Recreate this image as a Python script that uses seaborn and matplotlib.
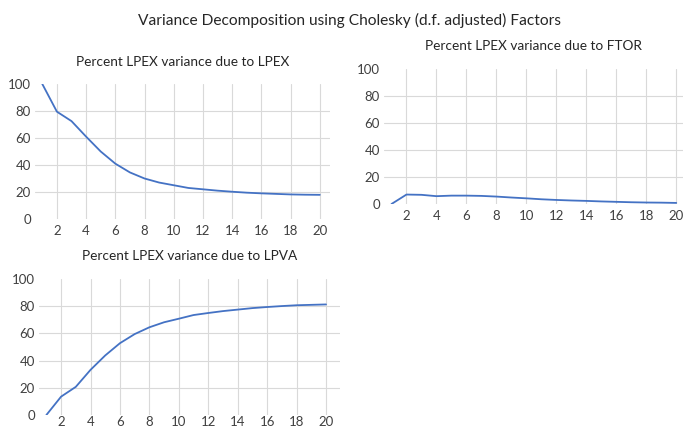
import matplotlib
matplotlib.use("Agg")
import matplotlib.pyplot as plt
import numpy as np
import pandas as pd
import seaborn as sns

# forecast horizon (periods)
periods = list(range(1, 21))

# percent of LPEX forecast error variance explained by each shock
lpex_share = [100, 79.5, 72.5, 61, 50, 41, 34.5, 30, 27, 25,
              23, 22, 21, 20.2, 19.5, 19, 18.6, 18.2, 18, 17.9]
ftor_share = [0, 7, 6.8, 5.8, 6.2, 6.2, 6, 5.5, 4.8, 4.2,
              3.5, 3, 2.6, 2.3, 1.9, 1.6, 1.3, 1.1, 1, 0.8]
lpva_share = [0, 13.5, 20.7, 33.2, 43.8, 52.8, 59.5, 64.5, 68.2, 70.8,
              73.5, 75, 76.4, 77.5, 78.6, 79.4, 80.1, 80.7, 81, 81.3]

xticks = list(range(2, 21, 2))
yticks = [0, 20, 40, 60, 80, 100]

sns.set_theme(style="white")
plt.rcParams["font.family"] = ["Lato", "DejaVu Sans"]

W, H = 683, 430
fig = plt.figure(figsize=(W / 100, H / 100), dpi=100)


def px_axes(left, top, width, height):
    # pixel box (from top-left) -> figure fraction
    return fig.add_axes([left / W, (H - top - height) / H, width / W, height / H])


panels = [
    ("Percent LPEX variance due to LPEX", lpex_share, (35, 84, 295, 135), (0.5, 20.7), 62, 4),
    ("Percent LPEX variance due to FTOR", ftor_share, (384, 69, 299, 135), (0.5, 20.45), 46, 4),
    ("Percent LPEX variance due to LPVA", lpva_share, (39, 279, 301, 136), (0.5, 20.95), 256, 1),
]

for title, vals, box, xlim, title_y, xpad in panels:
    ax = px_axes(*box)
    df = pd.DataFrame({"period": periods, "share": vals})
    sns.lineplot(data=df, x="period", y="share", ax=ax, color="#4472C4", linewidth=1.3)
    ax.set_xlim(*xlim)
    ax.set_ylim(0, 100)
    ax.set_xticks(xticks)
    ax.set_yticks(yticks)
    ax.set_xlabel("")
    ax.set_ylabel("")
    ax.grid(True, color="#D9D9D9", linewidth=0.8)
    ax.set_axisbelow(True)
    # no horizontal rules at 0 and 100, like the original
    ygl = ax.get_ygridlines()
    ygl[0].set_visible(False)
    ygl[-1].set_visible(False)
    for s in ax.spines.values():
        s.set_visible(False)
    ax.tick_params(axis="both", labelsize=9.5, colors="#404040", length=0, pad=3)
    ax.tick_params(axis="x", pad=xpad)
    cx = (box[0] + box[2] / 2) / W
    fig.text(cx, 1 - title_y / H, title, ha="center", va="center", fontsize=9.8, color="#262626")

fig.text(350 / W, 1 - 20 / H, "Variance Decomposition using Cholesky (d.f. adjusted) Factors",
         ha="center", va="center", fontsize=11.2, color="#262626")

fig.savefig("out.png", dpi=100)
